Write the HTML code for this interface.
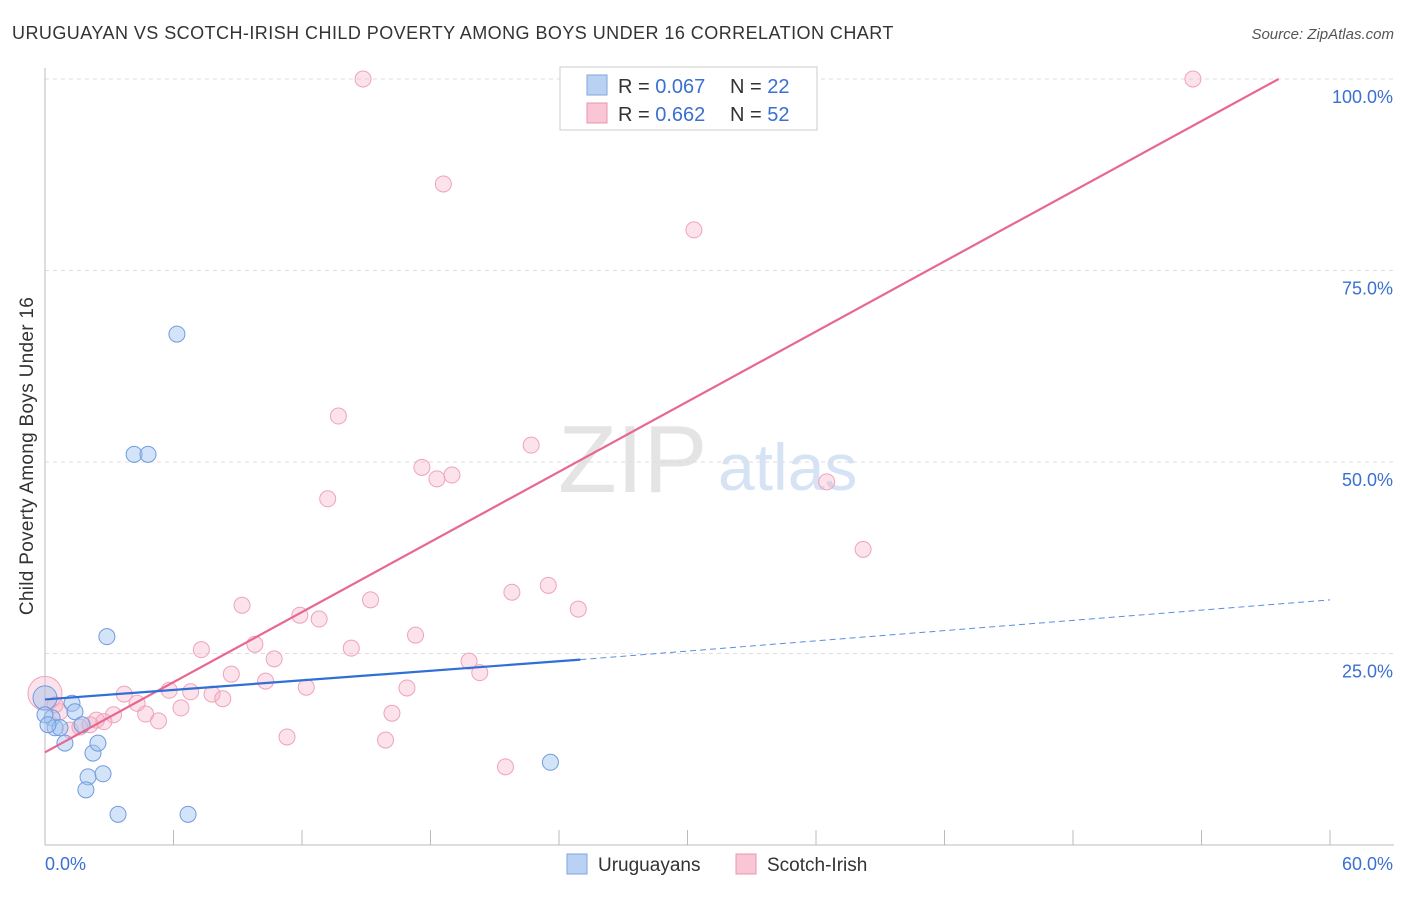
<!DOCTYPE html>
<html><head><meta charset="utf-8"><style>
body{margin:0;background:#fff;font-family:"Liberation Sans",sans-serif;}
svg text{font-family:"Liberation Sans",sans-serif;}
</style></head><body>
<svg id="chart" width="1406" height="892">
<text x="12" y="39" font-size="18" fill="#333" letter-spacing="0.45">URUGUAYAN VS SCOTCH-IRISH CHILD POVERTY AMONG BOYS UNDER 16 CORRELATION CHART</text>
<text x="1394" y="39" font-size="15" fill="#555" text-anchor="end" font-style="italic">Source: ZipAtlas.com</text>
<text transform="translate(33,456) rotate(-90)" font-size="19" fill="#333" text-anchor="middle" letter-spacing="0.3">Child Poverty Among Boys Under 16</text>
<text x="558" y="492" font-size="96" fill="#e4e4e4" font-family="Liberation Serif">ZIP</text>
<text x="718" y="490" font-size="66" fill="#d6e3f5">atlas</text>
<g id="grid"></g><g id="marks"></g>
<g>
<rect x="560" y="67" width="257" height="63" fill="#fff" stroke="#ccc"/>
<rect x="587" y="75" width="20" height="20" fill="#b9d2f3" stroke="#7ea6e0"/>
<rect x="587" y="103" width="20" height="20" fill="#f9c6d6" stroke="#ec93b0"/>
<text x="618" y="93" font-size="20" fill="#333">R = <tspan fill="#3a70d0">0.067</tspan></text>
<text x="730" y="93" font-size="20" fill="#333">N = <tspan fill="#3a70d0">22</tspan></text>
<text x="618" y="121" font-size="20" fill="#333">R = <tspan fill="#3a70d0">0.662</tspan></text>
<text x="730" y="121" font-size="20" fill="#333">N = <tspan fill="#3a70d0">52</tspan></text>
</g>
<g>
<rect x="567" y="854" width="20" height="20" fill="#b9d2f3" stroke="#7ea6e0"/>
<text x="598" y="871" font-size="19" fill="#333">Uruguayans</text>
<rect x="736" y="854" width="20" height="20" fill="#f9c6d6" stroke="#ec93b0"/>
<text x="767" y="871" font-size="19" fill="#333">Scotch-Irish</text>
</g>
</svg>
<script>
const blueX=[0,0.33,0.47,0.70,0.93,1.26,1.40,1.73,2.24,2.47,2.01,2.71,1.91,2.89,3.41,6.16,4.16,4.81,6.68,23.6,0,0.14];
const blueY=[19.2,16.6,15.3,15.3,13.3,18.5,17.4,15.7,12.0,13.3,8.9,9.3,7.2,27.2,4.0,66.7,51.0,51.0,4.0,10.8,17.0,15.7];
const pinkX=[14.85,53.6,18.6,30.3,13.7,22.7,17.6,18.3,19.0,13.2,36.5,38.2,9.2,23.5,21.8,24.9,15.2,11.9,12.8,17.3,9.8,7.3,14.3,10.7,19.8,20.3,8.7,10.3,3.7,5.8,6.8,12.2,16.9,7.8,8.3,4.3,3.2,4.7,5.3,2.75,2.4,6.35,16.2,11.3,15.9,21.5,0,1.17,1.63,0.7,2.1,0.47];
const pinkY=[100,100,86.3,80.3,56.0,52.2,49.3,47.8,48.3,45.2,47.4,38.6,31.3,33.9,33.0,30.8,32.0,30.0,29.5,27.4,26.2,25.5,25.7,24.3,24.0,22.5,22.3,21.4,19.7,20.2,20.0,20.6,20.5,19.7,19.1,18.5,17.0,17.1,16.2,16.1,16.3,17.9,17.2,14.1,13.7,10.2,19.8,15.0,15.4,17.4,15.7,18.3];
const pinkSize=[];pinkSize[46]=17;
const blueSize=[];blueSize[0]=12;
const pinkLine=[[0,12.1],[57.6,100]];
const blueLine=[[0,19.0],[25.0,24.2]];
const blueDash=[[25.0,24.2],[60,32.0]];
const yTicks=[25,50,75,100];
const xTickVals=[0,6,12,18,24,30,36,42,48,54,60];
const NS='http://www.w3.org/2000/svg';
const sx=v=>45+v/60*1285, sy=v=>845-v/100*766;
function mk(t,a,p){const e=document.createElementNS(NS,t);for(const k in a)e.setAttribute(k,a[k]);p.appendChild(e);return e;}
const grid=document.getElementById('grid'),marks=document.getElementById('marks');
yTicks.forEach(v=>{const l=mk('line',{x1:45,x2:1394,y1:sy(v),y2:sy(v),stroke:'#ddd','stroke-dasharray':'4,4'},grid);


const t=mk('text',{x:1393,y:sy(v)+24,'font-size':18,fill:'#3a70d0','text-anchor':'end'},grid);t.textContent=v.toFixed(1)+'%';

});
mk('line',{x1:45,x2:45,y1:68,y2:845,stroke:'#bbb'},grid);
mk('line',{x1:45,x2:1394,y1:845,y2:845,stroke:'#bbb'},grid);
xTickVals.forEach(v=>{const l=mk('line',{x1:sx(v),x2:sx(v),y1:830,y2:845,stroke:'#bbb'},grid);

});
[[0,'0.0%','start',45],[60,'60.0%','end',1393]].forEach(d=>{const t=mk('text',{x:d[3],y:870,'font-size':18,fill:'#3a70d0','text-anchor':d[2]},grid);t.textContent=d[1];

});
pinkX.forEach((x,i)=>{const c=mk('circle',{cx:sx(x),cy:sy(pinkY[i]),r:pinkSize[i]||8,fill:'rgba(246,172,196,0.35)',stroke:'#eea3bd','stroke-width':1},marks);

});
blueX.forEach((x,i)=>{const c=mk('circle',{cx:sx(x),cy:sy(blueY[i]),r:blueSize[i]||8,fill:'rgba(160,195,240,0.45)',stroke:'#6f9be0','stroke-width':1},marks);

});
const pl=mk('line',{x1:sx(pinkLine[0][0]),y1:sy(pinkLine[0][1]),x2:sx(pinkLine[1][0]),y2:sy(pinkLine[1][1]),stroke:'#e8678f','stroke-width':2.2},marks);


const bl=mk('line',{x1:sx(blueLine[0][0]),y1:sy(blueLine[0][1]),x2:sx(blueLine[1][0]),y2:sy(blueLine[1][1]),stroke:'#2f6fd6','stroke-width':2.2},marks);


const bd=mk('line',{x1:sx(blueDash[0][0]),y1:sy(blueDash[0][1]),x2:sx(blueDash[1][0]),y2:sy(blueDash[1][1]),stroke:'#5a8ee0','stroke-width':1,'stroke-dasharray':'6,4'},marks);


</script>
</body></html>
